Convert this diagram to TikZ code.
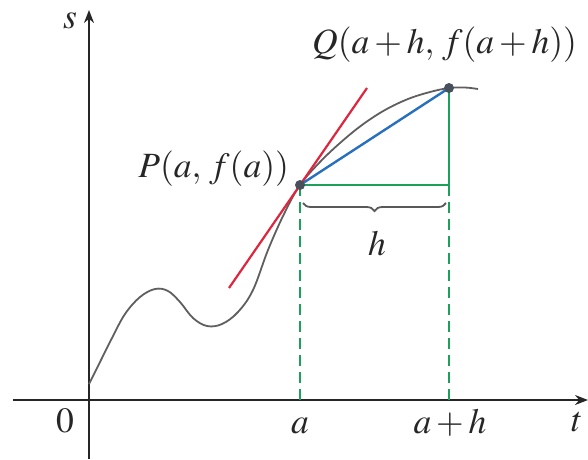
\documentclass[tikz,border=0pt]{standalone}
\usepackage{mathptmx}
\usetikzlibrary{arrows.meta,decorations.pathreplacing}
\definecolor{tanred}{RGB}{222,38,62}
\definecolor{secblue}{RGB}{40,112,190}
\definecolor{grgreen}{RGB}{28,160,90}
\definecolor{curvegray}{RGB}{95,95,95}
\definecolor{dotgray}{RGB}{72,80,92}
\tikzset{
  axis/.style={line width=1.8pt,draw=black!85,-{Stealth[length=13pt,width=10pt]}},
  curveline/.style={line width=1.8pt,draw=curvegray},
  tanline/.style={line width=2.2pt,draw=tanred},
  secline/.style={line width=2.4pt,draw=secblue},
  guide/.style={line width=1.5pt,draw=grgreen},
  guidedash/.style={guide,dash pattern=on 11pt off 6pt},
  pt/.style={circle,fill=dotgray,inner sep=0pt,minimum size=10pt},
  lbl/.style={font=\fontsize{35.5}{40}\selectfont,inner sep=0pt,text=black!85},
  bracestyle/.style={line width=1.8pt,draw=black!65,decorate,decoration={brace,mirror,amplitude=8pt}}
}
\begin{document}
\begin{tikzpicture}[x=1pt,y=-1pt]
\useasboundingbox (0,0) rectangle (588,459);
% axes
\coordinate (xs) at (13,400);
\coordinate (xe) at (588,400);
\coordinate (ys) at (89,459);
\coordinate (ye) at (89,10);
\draw[axis] (xs) -- (xe);
\draw[axis] (ys) -- (ye);
% points
\coordinate (P) at (300,185);
\coordinate (Q) at (449,88);
\coordinate (R) at (449,185);
\coordinate (Pa) at (300,400);
\coordinate (Qa) at (449,400);
\coordinate (T1) at (229,288);
\coordinate (T2) at (367,88);
% green guides
\draw[guide] (P) -- (R);
\draw[guide] (Q) -- (R);
\draw[guidedash] (P) -- (Pa);
\draw[guidedash] (R) -- (Qa);
% curve
\draw[curveline] plot[smooth,tension=0.6] coordinates {(89,384) (100,362) (112,338) (125,314) (140,297) (155,289) (168,291) (180,302) (193,318) (207,326) (222,324) (238,312) (253,290) (268,250) (284,214) (300,185) (320,162) (340,143) (362,125) (385,110) (408,99) (430,92) (449,88) (465,87.5) (478,89)};
% tangent and secant
\draw[tanline] (T1) -- (T2);
\draw[secline] (P) -- (Q);
% dots
\node[pt] (p) at (P) {};
\node[pt] (q) at (Q) {};
% brace
\coordinate (B1) at (303,203);
\coordinate (B2) at (446,203);
\draw[bracestyle] (B1) -- (B2);
% labels
\node[lbl,anchor=base east] (plbl) at (289,177) {$P(a,\, f(a))$};
\node[lbl,anchor=base west] (qlbl) at (312,53) {$Q(a+h,\, f(a+h))$};
\node[lbl,anchor=base] (hlbl) at (377,255) {$h$};
\node[lbl,anchor=base] (zero) at (65,432) {$0$};
\node[lbl,anchor=base] (albl) at (300,433) {$a$};
\node[lbl,anchor=base] (ahlbl) at (450,433) {$a+h$};
\node[lbl,anchor=base] (tlbl) at (577,431) {$t$};
\node[lbl,anchor=base] (slbl) at (70,28) {$s$};
\end{tikzpicture}
\end{document}
